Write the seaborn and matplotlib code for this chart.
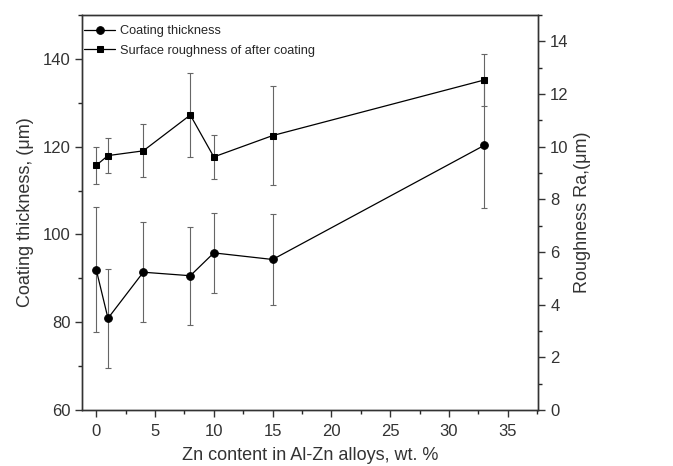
import numpy as np
import pandas as pd
import matplotlib
matplotlib.use("Agg")
import matplotlib.pyplot as plt
import seaborn as sns
from matplotlib.ticker import MultipleLocator

# Zn content (wt. %)
zn = [0, 1, 4, 8, 10, 15, 33]
# coating thickness (um), left axis
thickness = [92.0, 80.9, 91.4, 90.6, 95.8, 94.3, 120.3]
thickness_err = [14.3, 11.3, 11.4, 11.2, 9.1, 10.3, 14.2]
# surface roughness Ra (um), right axis
roughness = [9.29, 9.66, 9.84, 11.2, 9.61, 10.42, 12.53]
roughness_err = [0.71, 0.65, 1.01, 1.59, 0.85, 1.88, 0.98]

df = pd.DataFrame({"zn": zn, "thickness": thickness, "t_err": thickness_err,
                   "roughness": roughness, "r_err": roughness_err})

sns.set_style("ticks")
plt.rcParams['font.family'] = ['Liberation Sans', 'DejaVu Sans']

fig, ax = plt.subplots(figsize=(6.73, 4.66), dpi=100)
fig.subplots_adjust(left=0.122, right=0.80, top=0.968, bottom=0.12)
ax2 = ax.twinx()

# error bars first (grey), then lines and markers on top
ax.errorbar(df["zn"], df["thickness"], yerr=df["t_err"], fmt="none",
            ecolor="#666666", elinewidth=0.8, capsize=2.5, capthick=0.8, zorder=1)
ax2.errorbar(df["zn"], df["roughness"], yerr=df["r_err"], fmt="none",
             ecolor="#666666", elinewidth=0.8, capsize=2.5, capthick=0.8, zorder=1)

sns.lineplot(data=df, x="zn", y="thickness", ax=ax, color="black", lw=0.9,
             marker="o", markersize=5.5, markeredgecolor="black",
             label="Coating thickness", legend=False)
sns.lineplot(data=df, x="zn", y="roughness", ax=ax2, color="black", lw=0.9,
             marker="s", markersize=4.6, markeredgecolor="black",
             label="Surface roughness of after coating", legend=False)

ax.set_xlim(-1.2, 37.6)
ax.set_ylim(60, 150)
ax2.set_ylim(0, 15)

ax.xaxis.set_major_locator(MultipleLocator(5))
ax.xaxis.set_minor_locator(MultipleLocator(2.5))
ax.yaxis.set_major_locator(MultipleLocator(20))
ax.yaxis.set_minor_locator(MultipleLocator(10))
ax2.yaxis.set_major_locator(MultipleLocator(2))
ax2.yaxis.set_minor_locator(MultipleLocator(1))

for a in (ax, ax2):
    a.tick_params(which="major", direction="out", length=5, width=1, labelsize=12, colors="#333333")
    a.tick_params(which="minor", direction="out", length=3, width=1)
    for s in a.spines.values():
        s.set_linewidth(1)
        s.set_color("#333333")
ax.tick_params(axis="x", pad=5)

ax.set_xlabel("Zn content in Al-Zn alloys, wt. %", fontsize=13, color="#333333", labelpad=6)
ax.set_ylabel("Coating thickness, (μm)", fontsize=13, color="#333333", labelpad=6)
ax2.set_ylabel("Roughness Ra,(μm)", fontsize=13, color="#333333", labelpad=4)

h1, l1 = ax.get_legend_handles_labels()
h2, l2 = ax2.get_legend_handles_labels()
ax2.legend(h1 + h2, l1 + l2, loc="upper left", frameon=False, fontsize=9.2,
           handlelength=2.4, handletextpad=0.35, labelspacing=0.6,
           borderaxespad=0.0, borderpad=0.5, bbox_to_anchor=(-0.009, 0.99))

fig.savefig("out.png", dpi=100)
